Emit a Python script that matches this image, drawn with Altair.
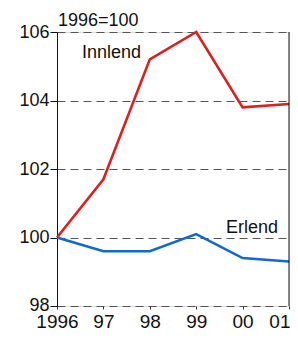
import altair as alt
import pandas as pd

years = [1996, 1997, 1998, 1999, 2000, 2001]
innlend = [100.0, 101.7, 105.2, 106.0, 103.8, 103.9]
erlend = [100.0, 99.6, 99.6, 100.1, 99.4, 99.3]
series_names = ["Innlend", "Erlend"]
colors = ["#dc1f1f", "#1068d4"]

label_text = ["Innlend", "Erlend"]
label_x = [1996.54, 1999.64]
label_y = [105.24, 100.13]

df = pd.DataFrame({
    "year": years * 2,
    "value": innlend + erlend,
    "series": [series_names[0]] * len(years) + [series_names[1]] * len(years),
})
labels_df = pd.DataFrame({"text": label_text, "x": label_x, "y": label_y})

FONT = "Liberation Sans"
xscale = alt.Scale(domain=[1996, 2001], nice=False, zero=False)
yscale = alt.Scale(domain=[98, 106], nice=False, zero=False)

lines = alt.Chart(df).mark_line(strokeWidth=2.6).encode(
    x=alt.X("year:Q", scale=xscale, title=None,
            axis=alt.Axis(values=years, domain=False, grid=False, tickSize=3,
                          tickColor="#333", labelPadding=3, labelFontSize=19,
                          labelFont=FONT, labelColor="#111", labelFlush=False,
                          labelAlign=alt.condition("datum.value == 2001", alt.value("right"), alt.value("center")),
                          labelOffset=alt.condition("datum.value == 2001", alt.value(1), alt.value(0)),
                          labelExpr="datum.value == 1996 ? '1996' : slice(toString(datum.value), 2)")),
    y=alt.Y("value:Q", scale=yscale, title=None,
            axis=alt.Axis(values=[98, 100, 102, 104, 106], domain=True, domainColor="#111",
                          domainWidth=1, grid=True, gridColor="#555", gridDash=[8, 5],
                          gridWidth=1, tickSize=7, tickColor="#111", labelPadding=1,
                          labelOffset=alt.condition("datum.value == 98", alt.value(-1), alt.value(0)),
                          labelFontSize=18, labelFont=FONT, labelColor="#111")),
    color=alt.Color("series:N", scale=alt.Scale(domain=series_names, range=colors), legend=None),
)

right_border = alt.Chart(pd.DataFrame({"x": [2001]})).mark_rule(color="#111", strokeWidth=1).encode(
    x=alt.X("x:Q", scale=xscale),
    y=alt.value(0),
    y2=alt.value(274),
)

texts = alt.Chart(labels_df).mark_text(
    align="left", baseline="alphabetic", fontSize=18, font=FONT, color="#111"
).encode(
    x=alt.X("x:Q", scale=xscale),
    y=alt.Y("y:Q", scale=yscale),
    text="text:N",
)

base_label = alt.Chart(pd.DataFrame({"t": ["1996=100"]})).mark_text(
    align="left", baseline="alphabetic", fontSize=18, font=FONT, color="#111"
).encode(
    x=alt.value(1),
    y=alt.value(-6),
    text="t:N",
)

chart = alt.layer(lines, right_border, texts, base_label).properties(
    width=232, height=274,
    autosize=alt.AutoSizeParams(type="none"),
    padding={"left": 49, "top": 24, "right": 1, "bottom": 24},
).configure_view(stroke=None).configure(background="white")

chart.save("out.html", embed_options={"renderer": "svg", "actions": False})
